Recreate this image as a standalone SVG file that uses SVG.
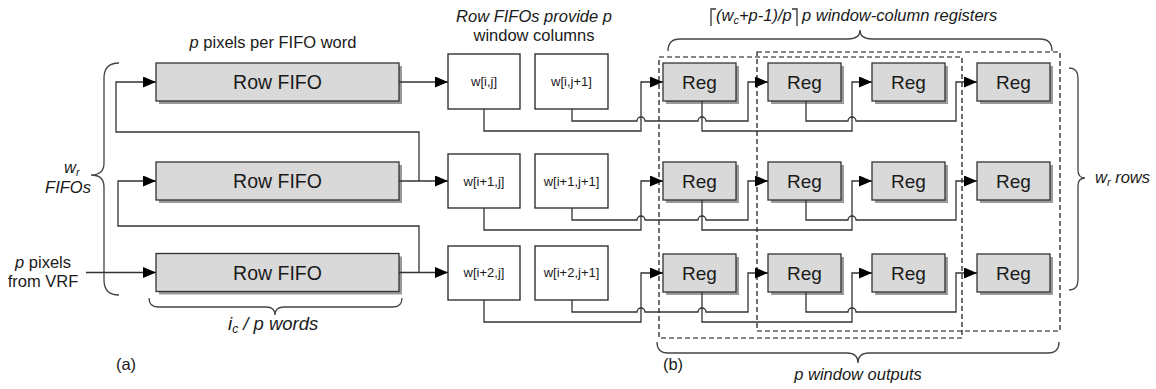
<svg xmlns="http://www.w3.org/2000/svg" width="1156" height="389" viewBox="0 0 1156 389">
<defs>
<style>
.t{font-family:"Liberation Sans",Arial,sans-serif;fill:#1a1a1a}
.it{font-style:italic}
.box{fill:#d9d9d9;stroke:#333;stroke-width:1.3}
.sh{fill:#9a9a9a}
.wb{fill:#fff;stroke:#222;stroke-width:1.3}
.ln{fill:none;stroke:#333;stroke-width:1.3}
.ar{fill:none;stroke:#333;stroke-width:1.3;marker-end:url(#ah)}
.br{fill:none;stroke:#444;stroke-width:1.3}
.dash{fill:none;stroke:#111;stroke-width:1.2;stroke-dasharray:5,3}
</style>
<marker id="ah" markerUnits="userSpaceOnUse" markerWidth="13" markerHeight="11" refX="13" refY="5.5" orient="auto">
<path d="M0,0 L13,5.5 L0,11 z" fill="#000"/>
</marker>
</defs>
<rect width="1156" height="389" fill="#fff"/>

<!-- labels -->
<g id="labels">
<text class="t" x="273" y="48" font-size="16.5" text-anchor="middle"><tspan class="it">p</tspan> pixels per FIFO word</text>
<text class="t it" x="534" y="22" font-size="16.5" text-anchor="middle">Row FIFOs provide p</text>
<text class="t" x="534" y="41" font-size="16.5" text-anchor="middle">window columns</text>
<text class="t it" x="64" y="173" font-size="16.5">w<tspan font-size="11" dy="3">r</tspan></text>
<text class="t it" x="68" y="193" font-size="16.5" text-anchor="middle">FIFOs</text>
<text class="t" x="43" y="268" font-size="16.5" text-anchor="middle"><tspan class="it">p</tspan> pixels</text>
<text class="t" x="43" y="287" font-size="16.5" text-anchor="middle">from VRF</text>
<text class="t it" x="228" y="330" font-size="18.5">i<tspan font-size="12" dy="3">c</tspan><tspan dy="-3"> / p words</tspan></text>
<text class="t" x="126" y="370" font-size="16.5" text-anchor="middle">(a)</text>
<text class="t" x="673" y="370" font-size="16.5" text-anchor="middle">(b)</text>
<text class="t it" x="858" y="380" font-size="16.5" text-anchor="middle">p window outputs</text>
<text class="t it" x="1095" y="183" font-size="16.5">w<tspan font-size="11" dy="3">r</tspan><tspan dy="-3"> rows</tspan></text>
<path class="ln" d="M716,9 L711,9 L711,26 M792,9 L797,9 L797,26" stroke="#222"/>
<text class="t it" x="716" y="21" font-size="16.5">(w<tspan font-size="11" dy="3">c</tspan><tspan dy="-3">+p-1)/p</tspan></text>
<text class="t it" x="802" y="21" font-size="16.5">p window-column registers</text>
</g>

<!-- braces -->
<g id="braces">
<path class="br" d="M119,63 Q104,63 104,78 L104,163 Q104,175 91,175 Q104,175 104,187 L104,280 Q104,295 119,295"/>
<path class="br" d="M149,298 Q149,307 158,307 L266,307 Q275,307 275,315 Q275,307 284,307 L393,307 Q402,307 402,298"/>
<path class="br" d="M668,51 Q668,39 680,39 L848,39 Q860,39 860,30 Q860,39 872,39 L1040,39 Q1052,39 1052,51"/>
<path class="br" d="M1069,68 Q1078,68 1078,78 L1078,170 Q1078,178 1085,178 Q1078,178 1078,186 L1078,280 Q1078,290 1069,290"/>
<path class="br" d="M657,342 Q657,353 668,353 L847,353 Q858,353 858,363 Q858,353 869,353 L1048,353 Q1059,353 1059,342"/>
</g>

<!-- dashed groupings -->
<g id="windows">
<rect class="dash" x="659" y="57" width="303" height="281"/>
<rect class="dash" x="757" y="52" width="303" height="279"/>
</g>

<!-- FIFOs -->
<g id="fifo1"><rect class="sh" x="159" y="66" width="243" height="38"/><rect class="box" x="156" y="63" width="243" height="38"/><text class="t" x="277.5" y="89" font-size="19.5" text-anchor="middle">Row FIFO</text></g>
<g id="fifo2"><rect class="sh" x="159" y="165" width="243" height="38"/><rect class="box" x="156" y="162" width="243" height="38"/><text class="t" x="277.5" y="188" font-size="19.5" text-anchor="middle">Row FIFO</text></g>
<g id="fifo3"><rect class="sh" x="159" y="256.5" width="243" height="38"/><rect class="box" x="156" y="253.5" width="243" height="38"/><text class="t" x="277.5" y="279.5" font-size="19.5" text-anchor="middle">Row FIFO</text></g>

<!-- w boxes -->
<g id="w_i_j"><rect class="wb" x="448" y="54" width="72" height="55"/><text class="t" x="484" y="86" font-size="13" text-anchor="middle">w[i,j]</text></g>
<g id="w_i_j1"><rect class="wb" x="535" y="54" width="73" height="55"/><text class="t" x="571.5" y="86" font-size="13" text-anchor="middle">w[i,j+1]</text></g>
<g id="w_i1_j"><rect class="wb" x="448" y="154" width="72" height="54"/><text class="t" x="484" y="185.5" font-size="13" text-anchor="middle">w[i+1,j]</text></g>
<g id="w_i1_j1"><rect class="wb" x="535" y="154" width="73" height="54"/><text class="t" x="571.5" y="185.5" font-size="13" text-anchor="middle">w[i+1,j+1]</text></g>
<g id="w_i2_j"><rect class="wb" x="448" y="246" width="72" height="54"/><text class="t" x="484" y="277" font-size="13" text-anchor="middle">w[i+2,j]</text></g>
<g id="w_i2_j1"><rect class="wb" x="535" y="246" width="73" height="54"/><text class="t" x="571.5" y="277" font-size="13" text-anchor="middle">w[i+2,j+1]</text></g>

<!-- registers -->
<g id="reg_1_1"><rect class="sh" x="666" y="66" width="73" height="38"/><rect class="box" x="663" y="63" width="73" height="38"/><text class="t" x="699.5" y="88.5" font-size="19" text-anchor="middle">Reg</text></g>
<g id="reg_1_2"><rect class="sh" x="771" y="66" width="73" height="38"/><rect class="box" x="768" y="63" width="73" height="38"/><text class="t" x="804.5" y="88.5" font-size="19" text-anchor="middle">Reg</text></g>
<g id="reg_1_3"><rect class="sh" x="875" y="66" width="73" height="38"/><rect class="box" x="872" y="63" width="73" height="38"/><text class="t" x="908.5" y="88.5" font-size="19" text-anchor="middle">Reg</text></g>
<g id="reg_1_4"><rect class="sh" x="980" y="66" width="73" height="38"/><rect class="box" x="977" y="63" width="73" height="38"/><text class="t" x="1013.5" y="88.5" font-size="19" text-anchor="middle">Reg</text></g>
<g id="reg_2_1"><rect class="sh" x="666" y="165" width="73" height="38"/><rect class="box" x="663" y="162" width="73" height="38"/><text class="t" x="699.5" y="187.5" font-size="19" text-anchor="middle">Reg</text></g>
<g id="reg_2_2"><rect class="sh" x="771" y="165" width="73" height="38"/><rect class="box" x="768" y="162" width="73" height="38"/><text class="t" x="804.5" y="187.5" font-size="19" text-anchor="middle">Reg</text></g>
<g id="reg_2_3"><rect class="sh" x="875" y="165" width="73" height="38"/><rect class="box" x="872" y="162" width="73" height="38"/><text class="t" x="908.5" y="187.5" font-size="19" text-anchor="middle">Reg</text></g>
<g id="reg_2_4"><rect class="sh" x="980" y="165" width="73" height="38"/><rect class="box" x="977" y="162" width="73" height="38"/><text class="t" x="1013.5" y="187.5" font-size="19" text-anchor="middle">Reg</text></g>
<g id="reg_3_1"><rect class="sh" x="666" y="257" width="73" height="38"/><rect class="box" x="663" y="254" width="73" height="38"/><text class="t" x="699.5" y="279.5" font-size="19" text-anchor="middle">Reg</text></g>
<g id="reg_3_2"><rect class="sh" x="771" y="257" width="73" height="38"/><rect class="box" x="768" y="254" width="73" height="38"/><text class="t" x="804.5" y="279.5" font-size="19" text-anchor="middle">Reg</text></g>
<g id="reg_3_3"><rect class="sh" x="875" y="257" width="73" height="38"/><rect class="box" x="872" y="254" width="73" height="38"/><text class="t" x="908.5" y="279.5" font-size="19" text-anchor="middle">Reg</text></g>
<g id="reg_3_4"><rect class="sh" x="980" y="257" width="73" height="38"/><rect class="box" x="977" y="254" width="73" height="38"/><text class="t" x="1013.5" y="279.5" font-size="19" text-anchor="middle">Reg</text></g>

<!-- connectors -->
<g id="connectors">
<path class="ar" d="M86,272.5 L156,272.5"/>
<path class="ar" d="M399,82 L448,82"/>
<path class="ar" d="M399,181 L448,181"/>
<path class="ar" d="M399,272.5 L448,272.5"/>
<path class="ar" d="M419,181 L419,132 L116,132 L116,82 L156,82"/>
<path class="ar" d="M419,272.5 L419,226 L118,226 L118,181 L156,181"/>

<!-- row 1 (cy=82) -->
<path class="ar" d="M484,109 L484,131 L641,131 L641,82 L663,82"/>
<path class="ar" d="M572,109 L572,121 L637,121 A4,4 0 0 1 645,121 L698,121 A4,4 0 0 1 706,121 L748,121 L748,82 L768,82"/>
<path class="ar" d="M702,101 L702,131 L852,131 L852,82 L872,82"/>
<path class="ar" d="M806,101 L806,121 L848,121 A4,4 0 0 1 856,121 L956,121 L956,82 L977,82"/>
<!-- row 2 (cy=181) -->
<path class="ar" d="M484,208 L484,230 L641,230 L641,181 L663,181"/>
<path class="ar" d="M572,208 L572,220 L637,220 A4,4 0 0 1 645,220 L698,220 A4,4 0 0 1 706,220 L748,220 L748,181 L768,181"/>
<path class="ar" d="M702,200 L702,230 L852,230 L852,181 L872,181"/>
<path class="ar" d="M806,200 L806,220 L848,220 A4,4 0 0 1 856,220 L956,220 L956,181 L977,181"/>
<!-- row 3 (cy=273) -->
<path class="ar" d="M484,300 L484,322 L641,322 L641,273 L663,273"/>
<path class="ar" d="M572,300 L572,312 L637,312 A4,4 0 0 1 645,312 L698,312 A4,4 0 0 1 706,312 L748,312 L748,273 L768,273"/>
<path class="ar" d="M702,292 L702,322 L852,322 L852,273 L872,273"/>
<path class="ar" d="M806,292 L806,312 L848,312 A4,4 0 0 1 856,312 L956,312 L956,273 L977,273"/>
</g>
</svg>
